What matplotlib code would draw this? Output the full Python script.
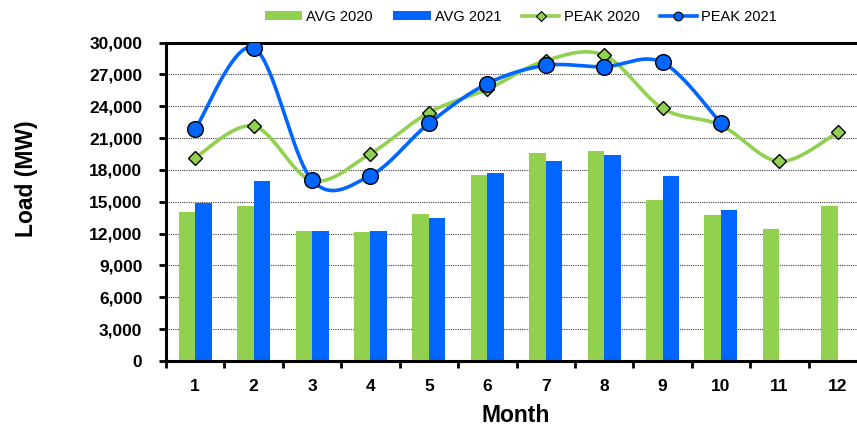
import numpy as np
import matplotlib
matplotlib.use('Agg')
import matplotlib.pyplot as plt
from matplotlib.lines import Line2D
from matplotlib.patches import Patch

plt.rcParams['font.family'] = ['Liberation Sans', 'DejaVu Sans']

months = list(range(1, 13))
month_labels = [str(m) for m in months]
avg_2020 = [14000, 14560, 12280, 12160, 13880, 17560, 19590, 19750, 15130, 13720, 12410, 14560]
avg_2021 = [14840, 16940, 12250, 12280, 13470, 17690, 18810, 19440, 17440, 14190]
peak_2020 = [19160, 22130, 17000, 19530, 23400, 25600, 28300, 28800, 23800, 22200, 18800, 21530]
peak_2021 = [21840, 29500, 17030, 17470, 22375, 26125, 27840, 27720, 28125, 22400]
y_ticks = list(range(0, 30001, 3000))

GREEN = '#92D050'
BLUE = '#0066FF'


def smooth(x, y, n=40):
    pts = np.column_stack([x, y]).astype(float)
    P = np.vstack([pts[0], pts, pts[-1]])
    t = np.linspace(0, 1, n)[:, None]
    out = []
    for i in range(1, len(P) - 2):
        p0, p1, p2, p3 = P[i - 1], P[i], P[i + 1], P[i + 2]
        c1 = p1 + (p2 - p0) / 6
        c2 = p2 - (p3 - p1) / 6
        seg = (1 - t) ** 3 * p1 + 3 * (1 - t) ** 2 * t * c1 + 3 * (1 - t) * t ** 2 * c2 + t ** 3 * p2
        out.append(seg if i == 1 else seg[1:])
    s = np.vstack(out)
    return s[:, 0], s[:, 1]


fig = plt.figure(figsize=(8.57, 4.34), dpi=100)
ax = fig.add_axes([166 / 857, 73 / 434, 701 / 857, 318.5 / 434])

bw = 0.283
x20 = np.array(months, dtype=float)
x21 = np.array(months[:len(avg_2021)], dtype=float)
ax.bar(x20 - bw / 2, avg_2020, width=bw, color=GREEN, zorder=2)
ax.bar(x21 + bw / 2, avg_2021, width=bw, color=BLUE, zorder=2)

sx, sy = smooth(x20, peak_2020)
ax.plot(sx, sy, color=GREEN, lw=2.6, zorder=3, solid_capstyle='round')
sx, sy = smooth(np.array(months[:len(peak_2021)], float), peak_2021)
ax.plot(sx, sy, color=BLUE, lw=2.6, zorder=4, solid_capstyle='round')
ax.plot(x20, peak_2020, linestyle='none', marker='D', ms=7.4, mfc=GREEN, mec='black', mew=1.0, zorder=5)
ax.plot(months[:len(peak_2021)], peak_2021, linestyle='none', marker='o', ms=11.3,
        mfc=BLUE, mec='black', mew=1.0, zorder=6)

ax.set_xlim(0.5, 12.5)
ax.set_ylim(0, 30000)
ax.set_yticks(y_ticks)
ax.set_yticklabels([f'{v:,}' for v in y_ticks])
ax.set_xticks(months)
ax.set_xticklabels(month_labels)
ax.set_xticks(np.arange(0.5, 13, 1), minor=True)
ax.tick_params(axis='x', which='major', length=0, pad=13)
ax.tick_params(axis='x', which='minor', length=5, width=2, direction='out')
ax.tick_params(axis='y', which='major', length=5, width=2, direction='out', pad=12)
for lab in ax.get_xticklabels() + ax.get_yticklabels():
    lab.set_fontsize(12.5)
    lab.set_fontweight('bold')

ax.yaxis.grid(True, linestyle=(0, (1, 1)), color='#404040', lw=0.8)
ax.set_axisbelow(True)
for side in ['top', 'left', 'bottom']:
    ax.spines[side].set_linewidth(2.2)
    ax.spines[side].set_color('black')
ax.spines['right'].set_visible(False)

fig.text(516 / 857, 1 - 415 / 434, 'Month', ha='center', va='center', fontsize=16.5, fontweight='bold')
fig.text(27 / 857, 1 - 179 / 434, 'Load (MW)', ha='center', va='center', rotation=90,
         fontsize=16.5, fontweight='bold')

handles = [
    Patch(facecolor=GREEN, edgecolor='none'),
    Patch(facecolor=BLUE, edgecolor='none'),
    Line2D([], [], color=GREEN, lw=2.6, marker='D', ms=4.8, mfc=GREEN, mec='black', mew=0.8),
    Line2D([], [], color=BLUE, lw=2.6, marker='o', ms=6.3, mfc=BLUE, mec='black', mew=0.8),
]
labels = ['AVG 2020', 'AVG 2021', 'PEAK 2020', 'PEAK 2021']
fig.legend(handles, labels, loc='center', bbox_to_anchor=(521 / 857, 1 - 17 / 434), ncol=4,
           frameon=False, fontsize=10.5, handlelength=2.55, handleheight=0.55, handletextpad=0.3,
           columnspacing=1.4, borderpad=0)

fig.savefig('out.png', dpi=100)
